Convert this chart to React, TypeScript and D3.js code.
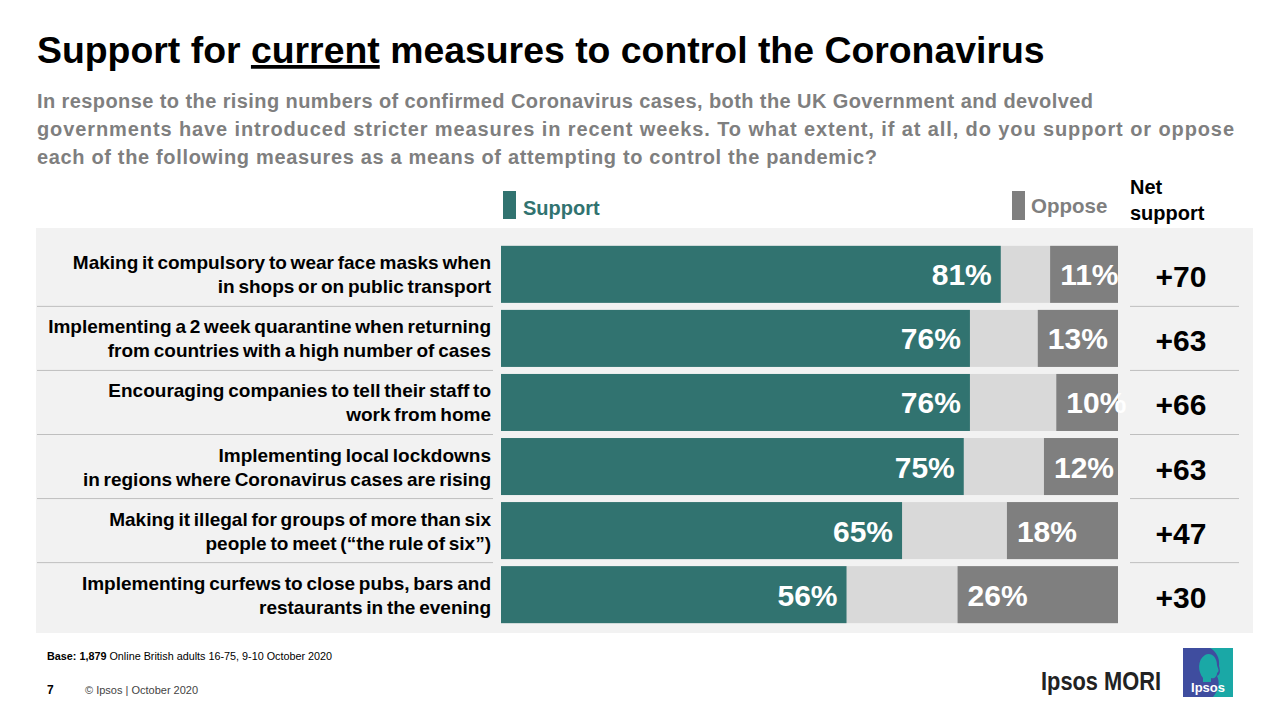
import React, { useEffect, useRef } from "react";
import * as d3 from "d3";

const labelLines: string[][] = [
  ["Making it compulsory to wear face masks when", "in shops or on public transport"],
  ["Implementing a 2 week quarantine when returning", "from countries with a high number of cases"],
  ["Encouraging companies to tell their staff to", "work from home"],
  ["Implementing local lockdowns", "in regions where Coronavirus cases are rising"],
  ["Making it illegal for groups of more than six", "people to meet (\u201cthe rule of six\u201d)"],
  ["Implementing curfews to close pubs, bars and", "restaurants in the evening"],
];
const support: number[] = [81, 76, 76, 75, 65, 56];
const oppose: number[] = [11, 13, 10, 12, 18, 26];
const netSupport: number[] = [70, 63, 66, 63, 47, 30];

const subtitleLines: string[] = [
  "In response to the rising numbers of confirmed Coronavirus cases, both the UK Government and devolved",
  "governments have introduced stricter measures in recent weeks. To what extent, if at all, do you support or oppose",
  "each of the following  measures as a means of attempting to control the pandemic?",
];
const subtitleWidths: number[] = [1056, 1197, 840];

const TEAL = "#317370";
const GREY = "#7f7f7f";
const LIGHT = "#d9d9d9";
const PANEL = "#f2f2f2";
const FONT = "'Liberation Sans', Arial, sans-serif";

const App: React.FC = () => {
  const ref = useRef<SVGSVGElement>(null);

  useEffect(() => {
    if (!ref.current) return;
    const svg = d3.select(ref.current);
    svg.selectAll("*").remove();
    svg.style("font-family", FONT);

    const x = d3.scaleLinear().domain([0, 100]).range([501, 1118]);
    const y = d3
      .scaleBand<number>()
      .domain(d3.range(support.length))
      .range([242, 627])
      .paddingInner(0.11)
      .paddingOuter(0.06);
    const bw = y.bandwidth();

    // title
    const title = svg
      .append("text")
      .attr("x", 37)
      .attr("y", 63)
      .attr("font-size", 37.4)
      .attr("font-weight", "bold")
      .attr("fill", "#000");
    title.append("tspan").text("Support for ");
    title.append("tspan").style("text-decoration", "underline").text("current");
    title.append("tspan").text(" measures to control the Coronavirus");

    // subtitle
    svg
      .selectAll("text.sub")
      .data(subtitleLines)
      .enter()
      .append("text")
      .attr("class", "sub")
      .attr("x", 37)
      .attr("y", (d, i) => 108 + i * 28)
      .attr("font-size", 20)
      .attr("font-weight", "bold")
      .attr("fill", GREY)
      .attr("textLength", (d, i) => subtitleWidths[i])
      .attr("lengthAdjust", "spacing")
      .text((d) => d);

    // legend
    svg.append("rect").attr("x", 503).attr("y", 191).attr("width", 13).attr("height", 28).attr("fill", TEAL);
    svg
      .append("text")
      .attr("x", 523)
      .attr("y", 215)
      .attr("font-size", 20)
      .attr("font-weight", "bold")
      .attr("fill", TEAL)
      .text("Support");
    svg.append("rect").attr("x", 1012).attr("y", 191).attr("width", 13).attr("height", 29).attr("fill", GREY);
    svg
      .append("text")
      .attr("x", 1031)
      .attr("y", 213)
      .attr("font-size", 20.5)
      .attr("font-weight", "bold")
      .attr("fill", GREY)
      .text("Oppose");
    const net = svg
      .append("text")
      .attr("x", 1130)
      .attr("font-size", 20)
      .attr("font-weight", "bold")
      .attr("fill", "#000");
    net.append("tspan").attr("x", 1130).attr("y", 194).text("Net");
    net.append("tspan").attr("x", 1130).attr("y", 220).text("support");

    // panel
    svg.append("rect").attr("x", 36).attr("y", 228).attr("width", 1217).attr("height", 405).attr("fill", PANEL);

    const rows = svg
      .selectAll("g.row")
      .data(support)
      .enter()
      .append("g")
      .attr("class", "row");

    // separators
    const seps = d3.range(1, support.length);
    const sepY = (d: number) => (y(d)! + y(d - 1)! + bw) / 2;
    svg
      .selectAll("line.sepL")
      .data(seps)
      .enter()
      .append("line")
      .attr("x1", 37)
      .attr("x2", 493)
      .attr("y1", sepY)
      .attr("y2", sepY)
      .attr("stroke", "#bfbfbf")
      .attr("stroke-width", 1);
    svg
      .selectAll("line.sepR")
      .data(seps)
      .enter()
      .append("line")
      .attr("x1", 1130)
      .attr("x2", 1239)
      .attr("y1", sepY)
      .attr("y2", sepY)
      .attr("stroke", "#bfbfbf")
      .attr("stroke-width", 1);

    // full background (neither / don't know)
    rows
      .append("rect")
      .attr("x", x(0))
      .attr("y", (d, i) => y(i)!)
      .attr("width", x(100) - x(0))
      .attr("height", bw)
      .attr("fill", LIGHT);
    rows
      .append("rect")
      .attr("x", x(0))
      .attr("y", (d, i) => y(i)!)
      .attr("width", (d) => x(d) - x(0))
      .attr("height", bw)
      .attr("fill", TEAL);
    rows
      .append("rect")
      .attr("x", (d, i) => x(100 - oppose[i]))
      .attr("y", (d, i) => y(i)!)
      .attr("width", (d, i) => x(100) - x(100 - oppose[i]))
      .attr("height", bw)
      .attr("fill", GREY);

    rows
      .append("text")
      .attr("x", (d) => x(d) - 9)
      .attr("y", (d, i) => y(i)! + bw / 2 + 11)
      .attr("text-anchor", "end")
      .attr("font-size", 30)
      .attr("font-weight", "bold")
      .attr("fill", "#fff")
      .text((d) => `${d}%`);
    rows
      .append("text")
      .attr("x", (d, i) => x(100 - oppose[i]) + 10)
      .attr("y", (d, i) => y(i)! + bw / 2 + 11)
      .attr("font-size", 30)
      .attr("font-weight", "bold")
      .attr("fill", "#fff")
      .text((d, i) => `${oppose[i]}%`);

    rows
      .append("text")
      .attr("x", 1181)
      .attr("y", (d, i) => y(i)! + bw / 2 + 13)
      .attr("text-anchor", "middle")
      .attr("font-size", 30)
      .attr("font-weight", "bold")
      .attr("fill", "#000")
      .text((d, i) => `+${netSupport[i]}`);

    // row labels
    rows.each(function (d, i) {
      const t = d3
        .select(this)
        .append("text")
        .attr("text-anchor", "end")
        .attr("font-size", 19)
        .attr("font-weight", "bold")
        .attr("fill", "#000")
        .style("word-spacing", "-1.5px");
      labelLines[i].forEach((line, j) => {
        t.append("tspan")
          .attr("x", 491)
          .attr("y", y(i)! + bw / 2 - 5 + j * 24)
          .text(line);
      });
    });

    // footer
    const base = svg.append("text").attr("x", 47).attr("y", 660).attr("font-size", 10.8).attr("fill", "#000");
    base.append("tspan").attr("font-weight", "bold").text("Base: 1,879");
    base.append("tspan").text(" Online British adults 16-75, 9-10 October 2020");
    svg
      .append("text")
      .attr("x", 47)
      .attr("y", 694)
      .attr("font-size", 12)
      .attr("font-weight", "bold")
      .text("7");
    svg
      .append("text")
      .attr("x", 85)
      .attr("y", 694)
      .attr("font-size", 11)
      .attr("fill", "#444")
      .text("\u00a9 Ipsos | October 2020");

    // logo
    svg
      .append("text")
      .attr("x", 1041)
      .attr("y", 690)
      .attr("font-size", 25)
      .attr("font-weight", "bold")
      .attr("fill", "#222")
      .attr("textLength", 120)
      .attr("lengthAdjust", "spacingAndGlyphs")
      .text("Ipsos MORI");
    const logo = svg.append("g").attr("transform", "translate(1183,648)");
    logo.append("rect").attr("width", 50).attr("height", 49).attr("fill", "#3f4d9f");
    logo
      .append("path")
      .attr("d", "M27,0 L50,0 L50,49 L30,49 C36,42 37,34 34,28 C38,26 37,22 36,18 C37,10 33,3 27,0 Z")
      .attr("fill", "#1aa8a6");
    logo
      .append("path")
      .attr("d", "M20,30 C15,24 14,12 22,7 C28,4 34,9 34,17 C35,21 37,23 34,25 C34,29 31,31 28,30 L28,34 L20,34 Z")
      .attr("fill", "#1aa8a6");
    logo
      .append("text")
      .attr("x", 25)
      .attr("y", 44)
      .attr("text-anchor", "middle")
      .attr("font-size", 13)
      .attr("font-weight", "bold")
      .attr("fill", "#fff")
      .text("Ipsos");
  }, []);

  return (
    <div style={{ position: "absolute", left: 0, top: 0, width: 1280, height: 720, background: "#fff" }}>
      <svg ref={ref} width={1280} height={720} />
    </div>
  );
};

export default App;
